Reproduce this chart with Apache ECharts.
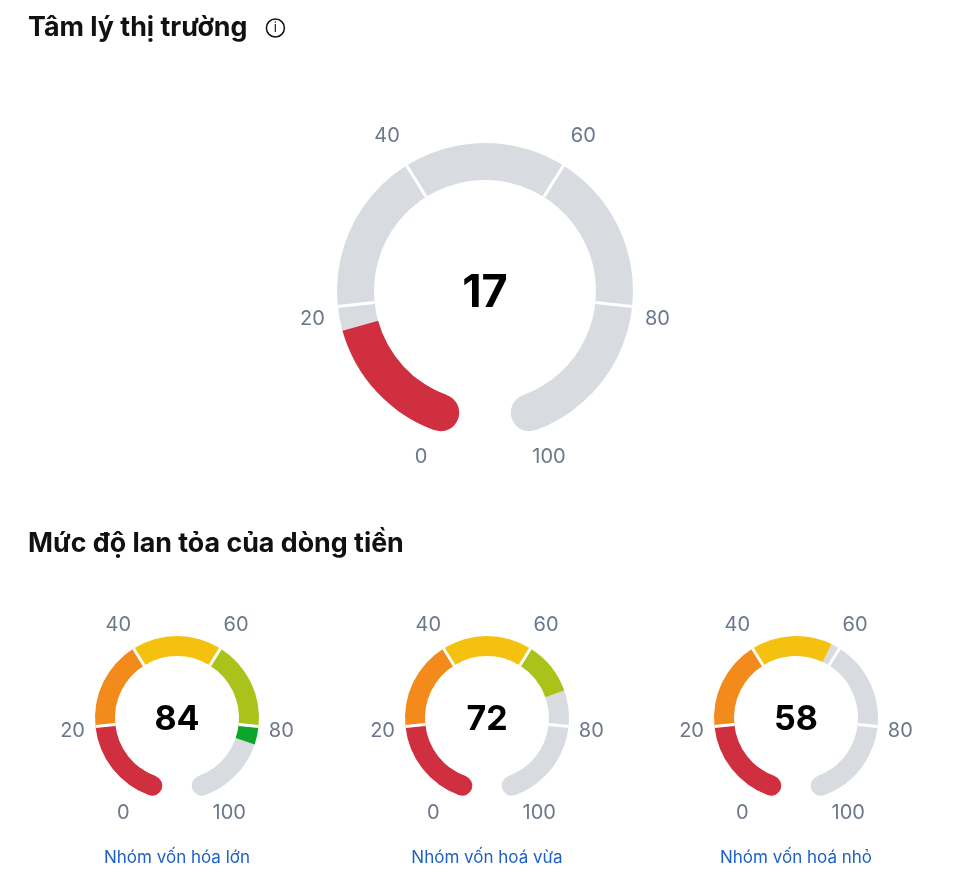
<!DOCTYPE html>
<html>
<head>
    <meta charset="utf-8">
    <title>Tâm lý thị trường</title>
    <script src="https://cdn.jsdelivr.net/npm/echarts@6/dist/echarts.min.js"></script>
    <style type="text/css">
        html, body {
            margin: 0;
            padding: 0;
            background: #fff;
        }

        #main {
            width: 971px;
            height: 885px;
        }
    </style>
</head>
<body>
<div id="main"></div>
<script>
    // tick labels and the colour of each 20-point band
    var tickValues = [0, 20, 40, 60, 80, 100];
    var bandColors = ['#cf2f3e', '#f28a1c', '#f5c10f', '#a9c31b', '#0aa52a'];
    var emptyColor = '#d8dbe0';

    var marketName = 'Tâm lý thị trường';
    var marketValue = 17;

    var flowTitle = 'Mức độ lan tỏa của dòng tiền';
    var groupNames = ['Nhóm vốn hóa lớn', 'Nhóm vốn hoá vừa', 'Nhóm vốn hoá nhỏ'];
    var groupValues = [84, 72, 58];

    var START = 250, END = -70;
    var FONT = 'Inter';
    var off = {show: false};

    function angleOf(v) {
        return START - (START - END) * v / 100;
    }

    // filled bands up to the value, grey for the rest
    function colorStops(value) {
        var stops = [];
        for (var i = 0; i < bandColors.length; i++) {
            var lo = tickValues[i], hi = tickValues[i + 1];
            if (value >= hi) {
                stops.push([hi / 100, bandColors[i]]);
            } else {
                if (value > lo) stops.push([value / 100, bandColors[i]]);
                break;
            }
        }
        stops.push([1, emptyColor]);
        return stops;
    }

    function baseGauge(layout, extra) {
        var s = {
            type: 'gauge',
            center: layout.center,
            radius: layout.radius,
            startAngle: START,
            endAngle: END,
            min: 0,
            max: 100,
            pointer: off,
            progress: off,
            axisTick: off,
            splitLine: {show: false, length: 0, distance: 0},
            axisLabel: off,
            anchor: off,
            title: off,
            detail: off,
            silent: true,
            animation: false
        };
        for (var k in extra) s[k] = extra[k];
        return s;
    }

    function gaugeSeries(layout, value, name) {
        var w = layout.width;
        var list = [];
        // round ends at 0 and 100 (drawn underneath)
        list.push(baseGauge(layout, {
            axisLine: {
                roundCap: true,
                lineStyle: {width: w, color: [[0.05, bandColors[0]], [0.95, 'rgba(0,0,0,0)'], [1, emptyColor]]}
            },
            data: [{value: value}]
        }));
        // bands
        list.push(baseGauge(layout, {
            axisLine: {lineStyle: {width: w, color: colorStops(value)}},
            title: name ? {
                show: true,
                offsetCenter: [0, layout.nameOffset],
                fontSize: 17,
                color: '#1c5fc7',
                fontFamily: FONT
            } : off,
            detail: {
                show: true,
                offsetCenter: [0, layout.detailOffset],
                formatter: '{value}',
                fontSize: layout.detailSize,
                fontWeight: 'bold',
                color: '#000',
                fontFamily: FONT
            },
            data: [{value: value, name: name || ''}]
        }));
        // white gaps at 20, 40, 60, 80
        list.push(baseGauge(layout, {
            startAngle: angleOf(tickValues[1]),
            endAngle: angleOf(tickValues[4]),
            min: tickValues[1],
            max: tickValues[4],
            splitNumber: 3,
            axisLine: {show: false, lineStyle: {width: w}},
            splitLine: {show: true, length: w, distance: -w, lineStyle: {color: '#fff', width: layout.gap}},
            data: [{value: value}]
        }));
        // tick labels, in symmetric pairs
        for (var p = 0; p < 3; p++) {
            (function (p) {
                var lo = tickValues[p], hi = tickValues[tickValues.length - 1 - p];
                var txt = {fontSize: 20, color: '#6b778a', fontFamily: FONT};
                list.push(baseGauge(layout, {
                    radius: layout.labelRadius[p],
                    startAngle: angleOf(lo),
                    endAngle: angleOf(hi),
                    min: lo,
                    max: hi,
                    splitNumber: 1,
                    axisLine: {show: false, lineStyle: {width: 0}},
                    axisLabel: {
                        show: true,
                        distance: 0,
                        fontSize: 20,
                        color: '#6b778a',
                        fontFamily: FONT,
                        formatter: function (v) {
                            return (v === lo ? '{lo|' : '{hi|') + v + '}';
                        },
                        rich: {
                            lo: Object.assign({padding: layout.labelPad[p][0]}, txt),
                            hi: Object.assign({padding: layout.labelPad[p][1]}, txt)
                        }
                    },
                    data: [{value: value}]
                }));
            })(p);
        }
        return list;
    }

    var mainLayout = {
        center: [485, 291],
        radius: 148,
        width: 37,
        gap: 3,
        detailSize: 45,
        detailOffset: 2,
        labelRadius: [187, 186, 209],
        labelPad: [[[0, 0, 0, 0], [0, 0, 0, 0]], [[18, 0, 0, 0], [18, 0, 0, 0]], [[12, 0, 0, 0], [12, 0, 0, 0]]]
    };

    var groupCenters = [[177, 718], [487, 718], [796, 718]];

    function smallLayout(c) {
        return {
            center: c,
            radius: 82,
            width: 20,
            gap: 3,
            detailSize: 34,
            detailOffset: 2,
            nameOffset: 140,
            labelRadius: [112, 117.5, 135],
            labelPad: [[[0, 31, 0, 0], [0, 0, 0, 28]], [[2, 0, 0, 0], [2, 0, 0, 0]], [[11, 0, 0, 0], [11, 0, 0, 0]]]
        };
    }

    var series = gaugeSeries(mainLayout, marketValue);
    for (var i = 0; i < groupValues.length; i++) {
        series = series.concat(gaugeSeries(smallLayout(groupCenters[i]), groupValues[i], groupNames[i]));
    }

    var headStyle = {fontFamily: FONT, fontSize: 26.8, fontWeight: 'bold', color: '#111', lineHeight: 30};

    var option = {
        backgroundColor: '#fff',
        animation: false,
        title: [{
            text: marketName + '{gap|}{info|i}',
            left: 23,
            top: 8,
            textStyle: Object.assign({
                rich: {
                    gap: {width: 19},
                    info: {
                        width: 18,
                        height: 18,
                        lineHeight: 18,
                        align: 'center',
                        borderColor: '#111',
                        borderWidth: 1.5,
                        borderRadius: 10,
                        fontSize: 13,
                        fontWeight: 'normal',
                        fontFamily: FONT,
                        color: '#111'
                    }
                }
            }, headStyle)
        }, {
            text: flowTitle,
            left: 23,
            top: 524,
            textStyle: headStyle
        }],
        series: series
    };

    var myChart = echarts.init(document.getElementById('main'));
    myChart.setOption(option);
</script>
</body>
</html>
